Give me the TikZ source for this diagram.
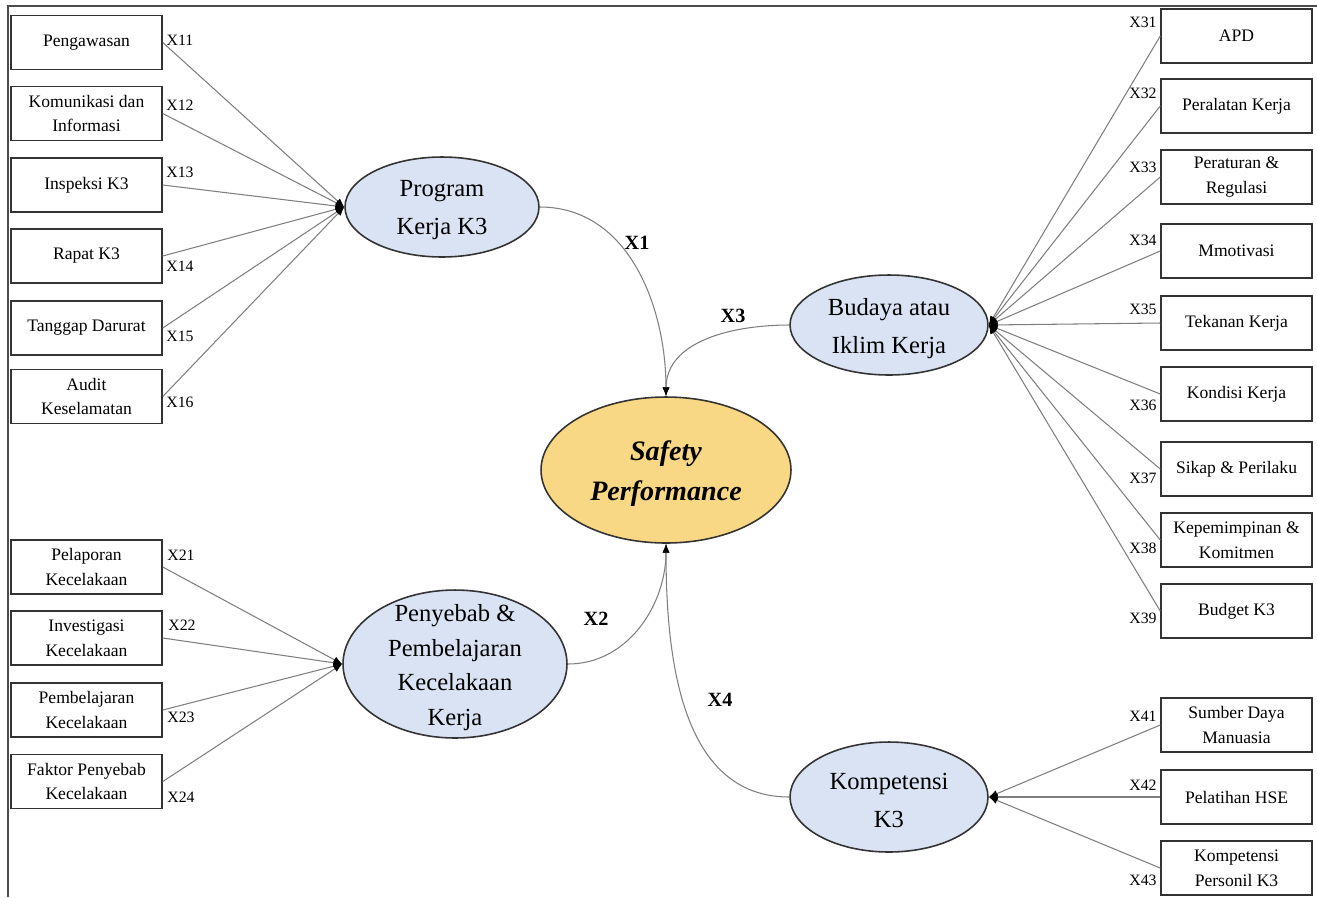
\documentclass[tikz,border=0pt]{standalone}
\usepackage{fontspec}
\setmainfont{Liberation Serif}
\usepackage{tikz}
\usetikzlibrary{arrows.meta,shapes.geometric}

\definecolor{latblue}{HTML}{DAE3F3}
\definecolor{safegold}{HTML}{F8D884}
\definecolor{edgegray}{HTML}{333333}
\definecolor{linegray}{HTML}{7F7F7F}

\begin{document}
\begin{tikzpicture}[
  x=0.02cm, y=-0.02cm,
  indicator/.style={rectangle, draw=edgegray, line width=0.9pt, fill=white,
                    minimum width=3.02cm, minimum height=1.08cm, inner sep=1pt,
                    align=center, font=\fontsize{10}{14}\selectfont},
  latent/.style={ellipse, draw=edgegray, line width=0.9pt, fill=latblue, inner sep=0pt},
  lattext/.style={align=center, inner sep=0pt, yshift=-2pt, font=\fontsize{14}{21.6}\selectfont},
  tag/.style={inner sep=0pt, font=\fontsize{9}{10}\selectfont},
  pathtag/.style={inner sep=0pt, font=\fontsize{11.5}{13}\selectfont\bfseries},
  load/.style={draw=linegray, line width=0.6pt, -{Latex[length=5pt,width=4pt,black]}},
  path/.style={draw=linegray, line width=0.6pt, -{Latex[length=5pt,width=4pt,black]}},
  >=Stealth
]
  \useasboundingbox (0,0) rectangle (1317,897);
  \draw[draw=black!70, line width=0.9pt] (8,897) -- (8,6) -- (1317,6);

  % latent variables
  \node[latent, minimum width=3.88cm, minimum height=2.0cm] (prog) at (442,207) {};
  \node[lattext] (progtxt) at (prog) {Program\\Kerja K3};
  \node[latent, minimum width=4.48cm, minimum height=2.96cm] (pen) at (455,664) {};
  \node[lattext, font=\fontsize{14}{19.6}\selectfont] (pentxt) at (pen) {Penyebab \&\\Pembelajaran\\Kecelakaan\\Kerja};
  \node[latent, minimum width=3.96cm, minimum height=2.0cm] (bud) at (889,325) {};
  \node[lattext] (budtxt) at (bud) {Budaya atau\\Iklim Kerja};
  \node[latent, minimum width=3.96cm, minimum height=2.2cm] (komp) at (889,797) {};
  \node[lattext] (komptxt) at (komp) {Kompetensi\\K3};
  \node[latent, fill=safegold, minimum width=5.0cm, minimum height=2.92cm] (safe) at (666,470) {};
  \node[lattext, font=\fontsize{16}{22.8}\selectfont\bfseries\itshape] (safetxt) at (safe) {Safety\\Performance};

  % indicators X1
  \node[indicator] (x11) at (86.5,42.5) {Pengawasan};
  \node[indicator] (x12) at (86.5,113.5) {Komunikasi dan\\Informasi};
  \node[indicator] (x13) at (86.5,185) {Inspeksi K3};
  \node[indicator] (x14) at (86.5,256) {Rapat K3};
  \node[indicator] (x15) at (86.5,328) {Tanggap Darurat};
  \node[indicator] (x16) at (86.5,396.5) {Audit\\Keselamatan};

  % indicators X2
  \node[indicator] (x21) at (86.5,567) {Pelaporan\\Kecelakaan};
  \node[indicator] (x22) at (86.5,638) {Investigasi\\Kecelakaan};
  \node[indicator] (x23) at (86.5,710) {Pembelajaran\\Kecelakaan};
  \node[indicator] (x24) at (86.5,781.5) {Faktor Penyebab\\Kecelakaan};

  % indicators X3
  \node[indicator] (x31) at (1236.5,36) {APD};
  \node[indicator] (x32) at (1236.5,106) {Peralatan Kerja};
  \node[indicator] (x33) at (1236.5,177) {Peraturan \&\\Regulasi};
  \node[indicator] (x34) at (1236.5,251) {Mmotivasi};
  \node[indicator] (x35) at (1236.5,323) {Tekanan Kerja};
  \node[indicator] (x36) at (1236.5,394) {Kondisi Kerja};
  \node[indicator] (x37) at (1236.5,469) {Sikap \& Perilaku};
  \node[indicator] (x38) at (1236.5,540) {Kepemimpinan \&\\Komitmen};
  \node[indicator] (x39) at (1236.5,611) {Budget K3};

  % indicators X4
  \node[indicator] (x41) at (1236.5,725) {Sumber Daya\\Manuasia};
  \node[indicator] (x42) at (1236.5,797) {Pelatihan HSE};
  \node[indicator] (x43) at (1236.5,868) {Kompetensi\\Personil K3};

  % loadings
  \foreach \i in {11,12,13,14,15,16}
    \draw[load] (x\i.east) -- (prog.west);
  \foreach \i in {21,22,23,24}
    \draw[load] (x\i.east) -- (pen.west);
  \foreach \i in {31,32,33,34,35,36,37,38,39}
    \draw[load] (x\i.west) -- (bud.east);
  \foreach \i in {41,42,43}
    \draw[load] (x\i.west) -- (komp.east);

  % indicator tags
  \node[tag] (t11) at (180,40) {X11};
  \node[tag] (t12) at (180,105) {X12};
  \node[tag] (t13) at (180,172) {X13};
  \node[tag] (t14) at (180,266) {X14};
  \node[tag] (t15) at (180,336) {X15};
  \node[tag] (t16) at (180,402) {X16};
  \node[tag] (t21) at (181,555) {X21};
  \node[tag] (t22) at (182,625) {X22};
  \node[tag] (t23) at (181,717) {X23};
  \node[tag] (t24) at (181,797) {X24};
  \node[tag] (t31) at (1143,22) {X31};
  \node[tag] (t32) at (1143,93) {X32};
  \node[tag] (t33) at (1143,167) {X33};
  \node[tag] (t34) at (1143,240) {X34};
  \node[tag] (t35) at (1143,309) {X35};
  \node[tag] (t36) at (1143,405) {X36};
  \node[tag] (t37) at (1143,478) {X37};
  \node[tag] (t38) at (1143,548) {X38};
  \node[tag] (t39) at (1143,618) {X39};
  \node[tag] (t41) at (1143,716) {X41};
  \node[tag] (t42) at (1143,785) {X42};
  \node[tag] (t43) at (1143,880) {X43};

  % structural paths
  \draw[path] (prog.east) to[out=0, in=90] (safe.north);
  \draw[path] (bud.west) to[out=180, in=90] (safe.north);
  \draw[path] (pen.east) to[out=0, in=-90] (safe.south);
  \draw[path] (komp.west) to[out=180, in=-90] (safe.south);

  \node[pathtag] (p1) at (637,243) {X1};
  \node[pathtag] (p3) at (733,316) {X3};
  \node[pathtag] (p2) at (596,619) {X2};
  \node[pathtag] (p4) at (720,700) {X4};
\end{tikzpicture}
\end{document}
